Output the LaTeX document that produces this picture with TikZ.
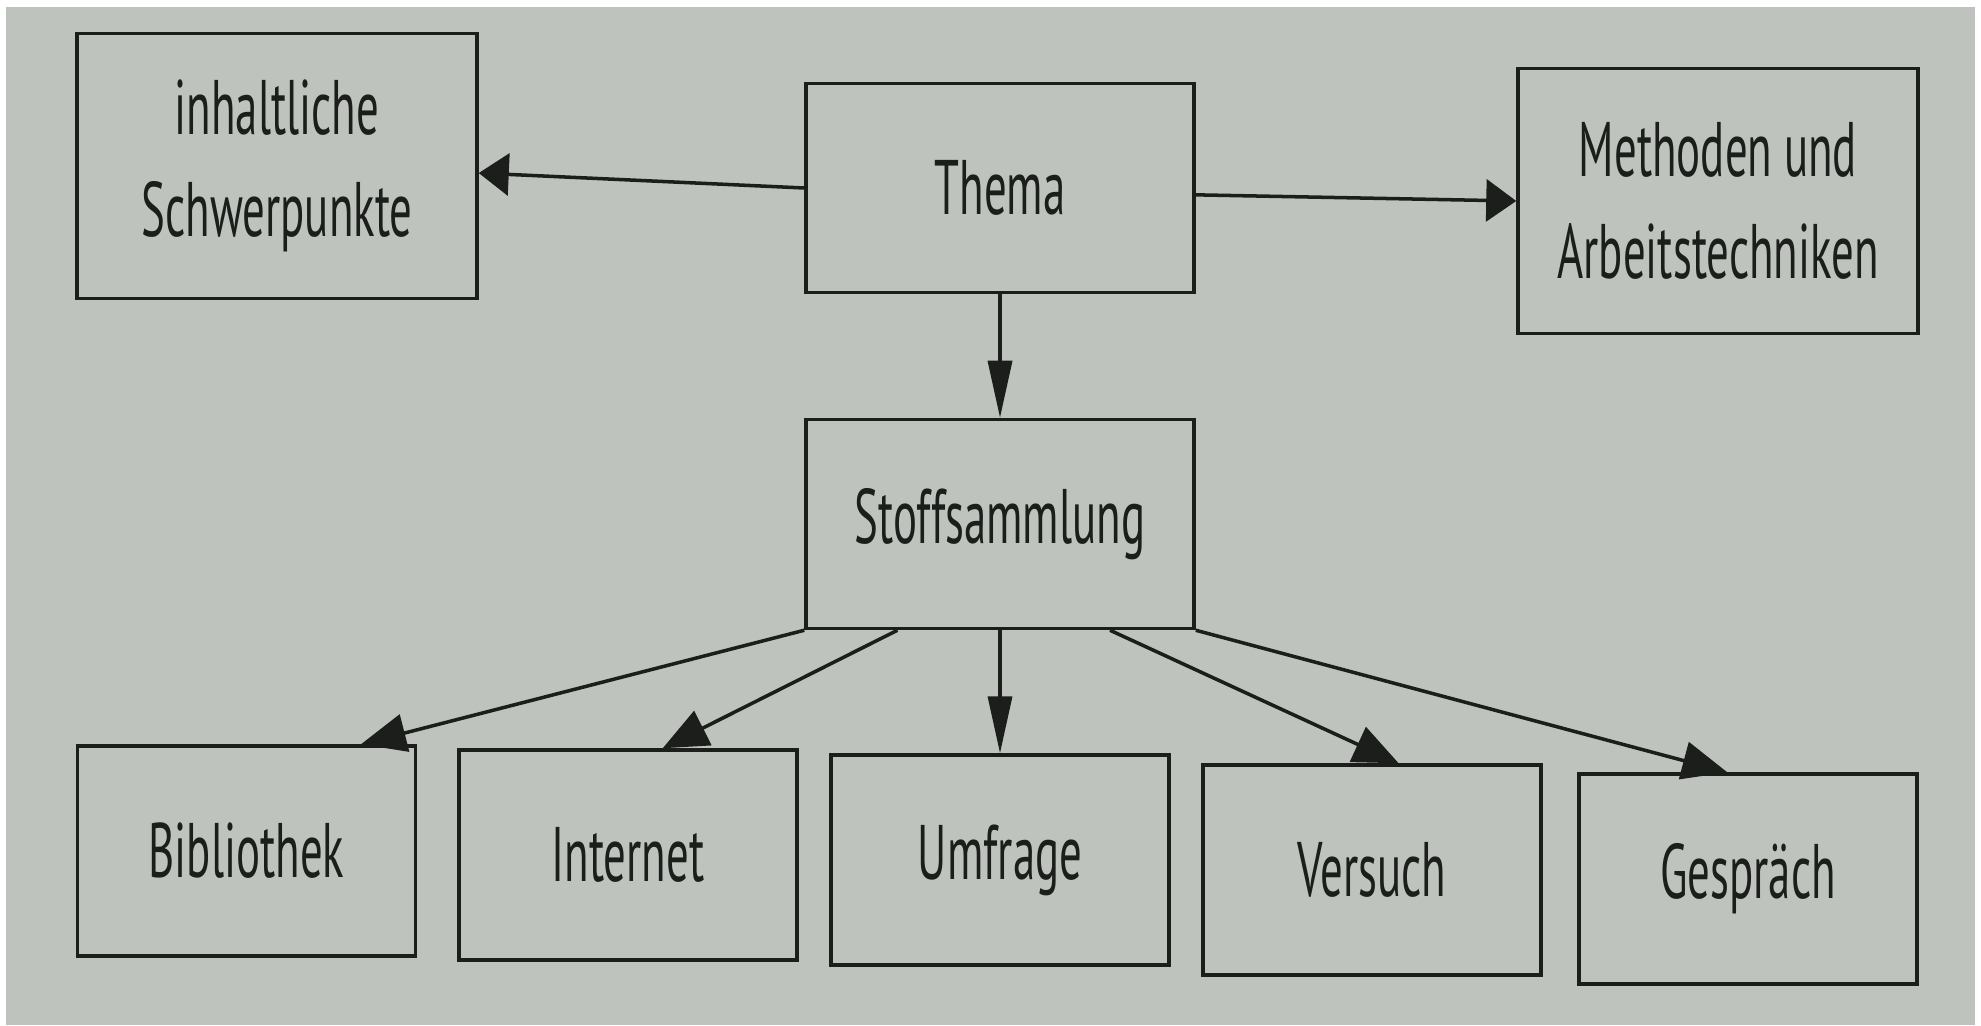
\documentclass[tikz,border=0pt]{standalone}
\usepackage{fontspec}
\newfontfamily\boxfont[FakeStretch=0.58]{PT Sans}
\usepackage{tikz}
\usetikzlibrary{arrows.meta}
\definecolor{paper}{RGB}{190,195,189}
\definecolor{ink}{RGB}{28,30,28}

\begin{document}
\begin{tikzpicture}[->,>={Triangle[length=0.45cm,width=0.38cm]},line width=1pt,color=ink,
    box/.style={draw=ink,text=ink,rectangle,align=center,inner sep=0pt,
                font=\boxfont\fontsize{22}{29}\selectfont},
    side/.style={box,minimum width=4cm,minimum height=2.65cm},
    mid/.style={box,minimum width=3.88cm,minimum height=2.09cm},
    leaf/.style={box,minimum width=3.38cm,minimum height=2.1cm},
    flat/.style={>={Triangle[length=0.3cm,width=0.42cm]}},
    steep/.style={>={Triangle[length=0.57cm,width=0.24cm]}},
    node distance=3.36cm]

\useasboundingbox[fill=white] (0,0) rectangle (19.81,-10.25);
\fill[-,paper] (0.06,-0.07) rectangle (19.75,-10.25);

\node[mid] (thema) at (10,-1.88) {Thema};
\node[mid] (stoff) [below of=thema] {Stoffsammlung};

\node[side] (inhalt) [node distance=7.23cm, left of=thema, yshift=2.2mm] {inhaltliche\\Schwerpunkte};
\node[side] (methoden) [node distance=7.18cm, right of=thema, yshift=-1.3mm] {Methoden und\\Arbeitstechniken};

\node[leaf] (umfrage) [below of=stoff] {Umfrage};
\node[leaf] (internet) [node distance=3.72cm, left of=umfrage, yshift=0.5mm] {Internet};
\node[leaf] (biblio) [node distance=3.815cm, left of=internet, yshift=0.4mm] {Bibliothek};
\node[leaf] (versuch) [node distance=3.72cm, right of=umfrage, yshift=-1mm] {Versuch};
\node[leaf] (gespraech) [node distance=3.76cm, right of=versuch, yshift=-0.9mm] {Gespräch};

\path
	(thema.west) edge[flat] (inhalt.-2.5)
	(thema.-2.6) edge[flat] (methoden.west);
\path
	(thema) edge[steep] (stoff);

\path
	(stoff.south west) edge (biblio.43)
	(stoff.226) edge (internet.72)
	(stoff.south) edge[steep] (umfrage.north)
	(stoff.316) edge (versuch.76)
	(stoff.south east) edge (gespraech.101);

\end{tikzpicture}
\end{document}
